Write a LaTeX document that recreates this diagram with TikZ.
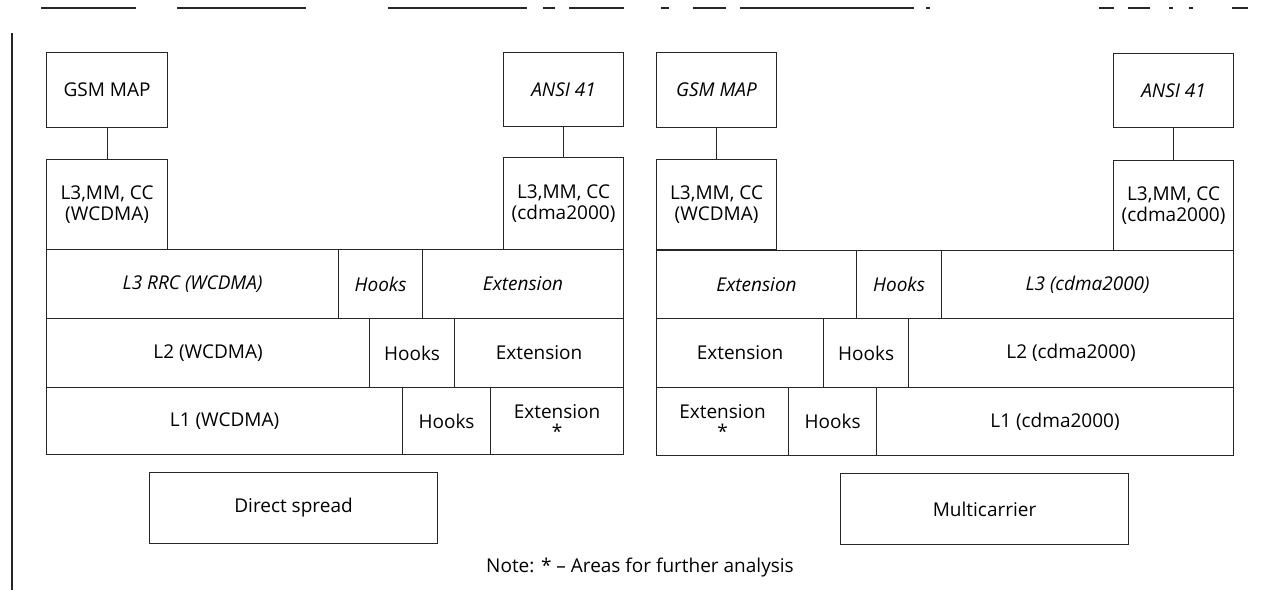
\documentclass[tikz,border=0pt]{standalone}
\usepackage{fontspec}
\setmainfont{Open Sans}
\begin{document}
\begin{tikzpicture}[x=1pt,y=-1pt,
  box/.style={draw=black!85, line width=1.1pt, inner sep=0pt, anchor=north west,
    align=center, font=\fontsize{19}{21}\selectfont},
  ibox/.style={box, font=\fontsize{19}{21}\selectfont\itshape},
  link/.style={draw=black!85, line width=1.1pt},
  framel/.style={draw=black!85, line width=1.1pt}]
\useasboundingbox (0,0) rectangle (1264,590);
% frame
\draw[framel] (41,8) -- (136,8) (177,8) -- (306,8) (388,8) -- (527,8)
  (543,8) -- (555,8) (569,8) -- (624,8) (661,8) -- (669,8) (693,8) -- (726,8)
  (740,8) -- (914,8) (926,8) -- (930,8) (1099,8) -- (1114,8) (1128,8) -- (1150,8)
  (1169,8) -- (1173,8) (1189,8) -- (1193,8) (1232,8) -- (1248,8);
\draw[framel] (12,33) -- (12,590);
% left diagram
\node[box, minimum width=121pt, minimum height=75pt] (gsmL) at (46,52) {GSM MAP};
\node[box, minimum width=121pt, minimum height=90pt] (l3L) at (46,159) {L3,MM, CC\\(WCDMA)};
\node[ibox, minimum width=120pt, minimum height=74pt] (ansiL) at (503,52) {ANSI 41};
\node[box, minimum width=120pt, minimum height=92pt] (l3cL) at (503,157) {L3,MM, CC\\(cdma2000)};
\node[ibox, minimum width=292pt, minimum height=69pt] (rrcL) at (46,249) {L3 RRC (WCDMA)};
\node[ibox, minimum width=84pt, minimum height=69pt] (hk1L) at (338,249) {Hooks};
\node[ibox, minimum width=201pt, minimum height=69pt] (ex1L) at (422,249) {Extension};
\node[box, minimum width=323pt, minimum height=69pt] (l2L) at (46,318) {L2 (WCDMA)};
\node[box, minimum width=85pt, minimum height=69pt] (hk2L) at (369,318) {Hooks};
\node[box, minimum width=169pt, minimum height=69pt] (ex2L) at (454,318) {Extension};
\node[box, minimum width=356pt, minimum height=67pt] (l1L) at (46,387) {L1 (WCDMA)};
\node[box, minimum width=88pt, minimum height=67pt] (hk3L) at (402,387) {Hooks};
\node[box, minimum width=133pt, minimum height=67pt] (ex3L) at (490,387) {Extension\\[-1pt]*};
\node[box, minimum width=288pt, minimum height=71pt] (dsL) at (149,472) {Direct spread};
\draw[link] (gsmL.south) -- (l3L.north);
\draw[link] (ansiL.south) -- (l3cL.north);
% right diagram
\node[ibox, minimum width=120pt, minimum height=75pt] (gsmR) at (656,52) {GSM MAP};
\node[box, minimum width=120pt, minimum height=90pt] (l3R) at (656,159) {L3,MM, CC\\(WCDMA)};
\node[ibox, minimum width=120pt, minimum height=74pt] (ansiR) at (1113,53) {ANSI 41};
\node[box, minimum width=120pt, minimum height=90pt] (l3cR) at (1113,160) {L3,MM, CC\\(cdma2000)};
\node[ibox, minimum width=200pt, minimum height=68pt] (ex1R) at (656,250) {Extension};
\node[ibox, minimum width=85pt, minimum height=68pt] (hk1R) at (856,250) {Hooks};
\node[ibox, minimum width=292pt, minimum height=68pt] (l31R) at (941,250) {L3 (cdma2000)};
\node[box, minimum width=167pt, minimum height=69pt] (ex2R) at (656,318) {Extension};
\node[box, minimum width=85pt, minimum height=69pt] (hk2R) at (823,318) {Hooks};
\node[box, minimum width=325pt, minimum height=69pt] (l2R) at (908,318) {L2 (cdma2000)};
\node[box, minimum width=132pt, minimum height=68pt] (ex3R) at (656,387) {Extension\\[-1pt]*};
\node[box, minimum width=88pt, minimum height=68pt] (hk3R) at (788,387) {Hooks};
\node[box, minimum width=357pt, minimum height=68pt] (l1R) at (876,387) {L1 (cdma2000)};
\node[box, minimum width=288pt, minimum height=71pt] (mcR) at (840,473) {Multicarrier};
\draw[link] (gsmR.south) -- (l3R.north);
\draw[link] (ansiR.south) -- (l3cR.north);
% note
\node[anchor=base west, inner sep=0pt, font=\fontsize{19}{21}\selectfont] (note) at (486,572) {Note: * – Areas for further analysis};
\end{tikzpicture}
\end{document}
